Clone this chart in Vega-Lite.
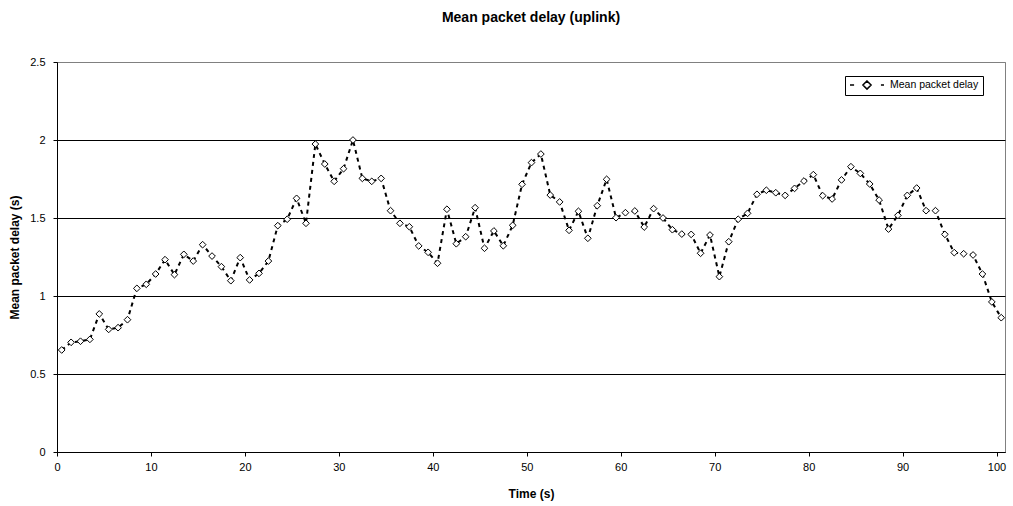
{
  "$schema": "https://vega.github.io/schema/vega-lite/v6.json",
  "width": 948,
  "height": 390,
  "autosize": {"type": "none"},
  "padding": {"left": 57, "top": 62, "right": 8, "bottom": 54},
  "background": "white",
  "title": {"text": "Mean packet delay (uplink)", "font": "Liberation Sans", "fontSize": 14, "fontWeight": "bold", "color": "black", "anchor": "middle", "offset": 31},
  "config": {
    "view": {"stroke": "#808080", "strokeWidth": 1},
    "axis": {"labelFont": "Liberation Sans", "labelFontSize": 11, "labelColor": "black", "titleFont": "Liberation Sans", "titleFontSize": 12, "titleFontWeight": "bold", "titleColor": "black", "domainColor": "black", "tickColor": "black", "tickSize": 4}
  },
  "data": {"values": [
    {"t": 0.5, "delay": 0.654}, {"t": 1.5, "delay": 0.703}, {"t": 2.5, "delay": 0.710}, {"t": 3.5, "delay": 0.722}, {"t": 4.5, "delay": 0.885},
    {"t": 5.5, "delay": 0.786}, {"t": 6.5, "delay": 0.797}, {"t": 7.5, "delay": 0.848}, {"t": 8.5, "delay": 1.049}, {"t": 9.5, "delay": 1.075},
    {"t": 10.5, "delay": 1.141}, {"t": 11.5, "delay": 1.233}, {"t": 12.5, "delay": 1.137}, {"t": 13.5, "delay": 1.267}, {"t": 14.5, "delay": 1.224},
    {"t": 15.5, "delay": 1.329}, {"t": 16.5, "delay": 1.256}, {"t": 17.5, "delay": 1.188}, {"t": 18.5, "delay": 1.098}, {"t": 19.5, "delay": 1.246},
    {"t": 20.5, "delay": 1.103}, {"t": 21.5, "delay": 1.145}, {"t": 22.5, "delay": 1.224}, {"t": 23.5, "delay": 1.451}, {"t": 24.5, "delay": 1.492},
    {"t": 25.5, "delay": 1.626}, {"t": 26.5, "delay": 1.466}, {"t": 27.5, "delay": 1.974}, {"t": 28.5, "delay": 1.846}, {"t": 29.5, "delay": 1.735},
    {"t": 30.5, "delay": 1.816}, {"t": 31.5, "delay": 2.000}, {"t": 32.5, "delay": 1.754}, {"t": 33.5, "delay": 1.735}, {"t": 34.5, "delay": 1.754},
    {"t": 35.5, "delay": 1.547}, {"t": 36.5, "delay": 1.466}, {"t": 37.5, "delay": 1.444}, {"t": 38.5, "delay": 1.321}, {"t": 39.5, "delay": 1.280},
    {"t": 40.5, "delay": 1.210}, {"t": 41.5, "delay": 1.556}, {"t": 42.5, "delay": 1.335}, {"t": 43.5, "delay": 1.380}, {"t": 44.5, "delay": 1.566},
    {"t": 45.5, "delay": 1.306}, {"t": 46.5, "delay": 1.417}, {"t": 47.5, "delay": 1.322}, {"t": 48.5, "delay": 1.453}, {"t": 49.5, "delay": 1.716},
    {"t": 50.5, "delay": 1.855}, {"t": 51.5, "delay": 1.910}, {"t": 52.5, "delay": 1.647}, {"t": 53.5, "delay": 1.603}, {"t": 54.5, "delay": 1.421},
    {"t": 55.5, "delay": 1.543}, {"t": 56.5, "delay": 1.370}, {"t": 57.5, "delay": 1.579}, {"t": 58.5, "delay": 1.748}, {"t": 59.5, "delay": 1.502},
    {"t": 60.5, "delay": 1.534}, {"t": 61.5, "delay": 1.545}, {"t": 62.5, "delay": 1.442}, {"t": 63.5, "delay": 1.560}, {"t": 64.5, "delay": 1.500},
    {"t": 65.5, "delay": 1.425}, {"t": 66.5, "delay": 1.397}, {"t": 67.5, "delay": 1.395}, {"t": 68.5, "delay": 1.274}, {"t": 69.5, "delay": 1.391},
    {"t": 70.5, "delay": 1.124}, {"t": 71.5, "delay": 1.348}, {"t": 72.5, "delay": 1.492}, {"t": 73.5, "delay": 1.530}, {"t": 74.5, "delay": 1.652},
    {"t": 75.5, "delay": 1.678}, {"t": 76.5, "delay": 1.662}, {"t": 77.5, "delay": 1.645}, {"t": 78.5, "delay": 1.690}, {"t": 79.5, "delay": 1.737},
    {"t": 80.5, "delay": 1.778}, {"t": 81.5, "delay": 1.643}, {"t": 82.5, "delay": 1.622}, {"t": 83.5, "delay": 1.744}, {"t": 84.5, "delay": 1.829},
    {"t": 85.5, "delay": 1.786}, {"t": 86.5, "delay": 1.718}, {"t": 87.5, "delay": 1.615}, {"t": 88.5, "delay": 1.429}, {"t": 89.5, "delay": 1.517},
    {"t": 90.5, "delay": 1.645}, {"t": 91.5, "delay": 1.692}, {"t": 92.5, "delay": 1.547}, {"t": 93.5, "delay": 1.547}, {"t": 94.5, "delay": 1.395},
    {"t": 95.5, "delay": 1.278}, {"t": 96.5, "delay": 1.271}, {"t": 97.5, "delay": 1.263}, {"t": 98.5, "delay": 1.141}, {"t": 99.5, "delay": 0.962},
    {"t": 100.5, "delay": 0.861}
  ]},
  "encoding": {
    "x": {"field": "t", "type": "quantitative", "title": "Time (s)",
      "scale": {"domain": [0, 100.9], "nice": false, "zero": false},
      "axis": {"values": [0, 10, 20, 30, 40, 50, 60, 70, 80, 90, 100], "grid": false, "labelPadding": 5, "titlePadding": 16, "labelFlush": false}},
    "y": {"field": "delay", "type": "quantitative", "title": "Mean packet delay (s)",
      "scale": {"domain": [0, 2.5], "nice": false},
      "axis": {"values": [0, 0.5, 1, 1.5, 2, 2.5], "format": "~g", "grid": true,
        "gridColor": {"condition": {"test": "datum.value == 2.5", "value": "#808080"}, "value": "black"},
        "gridOpacity": 1, "labelPadding": 8, "titlePadding": 8, "labelFlush": false}}
  },
  "layer": [
    {"mark": {"type": "line", "color": "black", "strokeWidth": 2, "strokeDash": [4, 4]}},
    {"mark": {"type": "point", "shape": "diamond", "filled": true, "fill": "white", "strokeWidth": 1, "size": 45, "opacity": 1},
     "encoding": {
       "stroke": {"datum": "Mean packet delay", "type": "nominal", "scale": {"range": ["black"]},
         "legend": {"title": null, "orient": "none", "legendX": 788, "legendY": 14, "padding": 4,
           "strokeColor": "black", "fillColor": "white",
           "symbolType": "M-1,0L-0.76,0M0.82,0L1,0M0,-0.24L0.24,0L0,0.24L-0.24,0Z",
           "symbolSize": 1156, "symbolStrokeWidth": 1.5, "symbolFillColor": "white", "symbolStrokeColor": "black",
           "clipHeight": 10, "labelFont": "Liberation Sans", "labelFontSize": 10.5, "labelColor": "black", "labelOffset": 5}}
     }}
  ]
}
